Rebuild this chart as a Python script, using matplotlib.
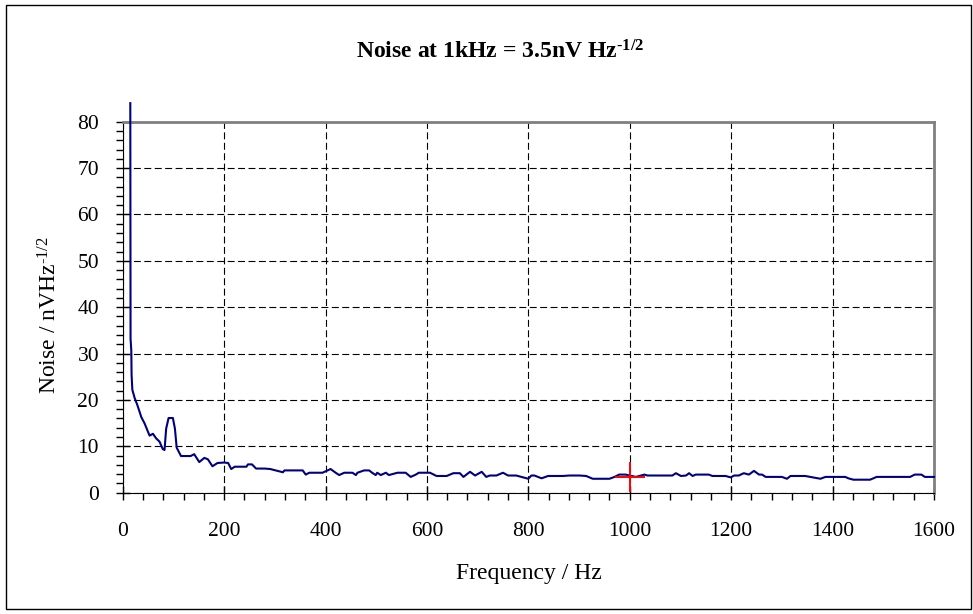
import numpy as np
import matplotlib
matplotlib.use("Agg")
import matplotlib.pyplot as plt
from matplotlib.ticker import MultipleLocator
from matplotlib.patches import Rectangle

# spectrum
freq = [15, 15.5, 17, 17.5, 19, 23.6, 28.9, 36.7, 43.3, 53, 59.7, 66, 72.7, 79, 82.5,
        85.7, 90.5, 99, 103, 106.5, 115, 134, 141, 151, 161, 168, 177, 187, 200, 208,
        214, 221, 244, 247, 255, 263, 280, 291, 309, 316, 319, 355, 361, 368, 394, 410,
        420, 427, 437, 453, 460, 463, 476, 486, 492, 499, 502, 509, 519, 525, 542, 558,
        568, 578, 584, 606, 619, 639, 652, 665, 672, 685, 695, 708, 717, 724, 737, 750,
        760, 776, 786, 800, 806, 812, 826, 839, 868, 881, 901, 914, 927, 960, 970, 979,
        992, 1012, 1029, 1035, 1084, 1091, 1101, 1111, 1117, 1124, 1130, 1156, 1163,
        1189, 1199, 1206, 1215, 1225, 1235, 1245, 1255, 1261, 1268, 1300, 1310, 1317,
        1346, 1366, 1376, 1386, 1425, 1431, 1441, 1474, 1487, 1553, 1562, 1575, 1582, 1600]
noise = [84, 33.2, 30.6, 25.5, 22.2, 20.4, 18.9, 16.3, 14.9, 12.3, 12.7, 11.7, 11.0, 9.4, 9.2,
         13.8, 16.1, 16.1, 13.8, 9.7, 7.9, 7.9, 8.3, 6.6, 7.5, 7.2, 5.7, 6.4, 6.5, 6.4,
         5.1, 5.6, 5.6, 6.1, 6.1, 5.2, 5.2, 5.1, 4.6, 4.4, 4.8, 4.8, 3.9, 4.3, 4.3, 5.1,
         4.3, 3.8, 4.3, 4.3, 3.8, 4.3, 4.8, 4.8, 4.3, 3.8, 4.3, 3.8, 4.3, 3.8, 4.3, 4.3,
         3.4, 3.9, 4.3, 4.3, 3.6, 3.6, 4.2, 4.2, 3.4, 4.5, 3.7, 4.5, 3.4, 3.7, 3.7, 4.3,
         3.7, 3.7, 3.4, 3.0, 3.7, 3.7, 3.1, 3.6, 3.6, 3.7, 3.7, 3.6, 3.0, 3.0, 3.4, 3.9,
         3.9, 3.4, 3.9, 3.7, 3.7, 4.2, 3.6, 3.7, 4.2, 3.6, 3.9, 3.9, 3.6,
         3.6, 3.3, 3.7, 3.7, 4.2, 3.9, 4.7, 3.9, 3.9, 3.4, 3.4, 3.0, 3.6,
         3.6, 3.2, 3.0, 3.4, 3.4, 3.1, 2.8, 2.8, 3.4, 3.4, 3.9, 3.9, 3.4, 3.4]

# marked point at 1 kHz
mark_f = 1000
mark_v = 3.4
mark_ferr = 30
mark_verr = 3.2

plt.rcParams['font.family'] = 'Liberation Serif'
plt.rcParams['mathtext.fontset'] = 'custom'
plt.rcParams['mathtext.rm'] = 'Liberation Serif'
plt.rcParams['mathtext.it'] = 'Liberation Serif'
plt.rcParams['mathtext.bf'] = 'Liberation Serif:bold'
plt.rcParams['lines.scale_dashes'] = False

fig = plt.figure(figsize=(9.73, 6.14), dpi=100)
ax = fig.add_axes([0.1261, 0.1976, 0.8338, 0.6042])

ax.plot(freq, noise, color='#000080', lw=1.5, clip_on=False, zorder=3)
ax.errorbar([mark_f], [mark_v], xerr=[mark_ferr], yerr=[mark_verr], fmt='none',
            ecolor='red', elinewidth=1.4, capsize=0, zorder=4)

ax.set_xlim(0, 1600)
ax.set_ylim(0, 80)
ax.xaxis.set_major_locator(MultipleLocator(200))
ax.xaxis.set_minor_locator(MultipleLocator(40))
ax.yaxis.set_major_locator(MultipleLocator(10))
ax.yaxis.set_minor_locator(MultipleLocator(2))

ax.grid(True, which='major', color='black', lw=0.8, linestyle=(0, (5, 2.5)))
ax.set_axisbelow(True)

ax.tick_params(which='major', direction='inout', length=10, width=1, labelsize=15.5)
ax.tick_params(which='minor', direction='out', length=5, width=1)
ax.tick_params(axis='y', which='major', pad=12)
ax.tick_params(axis='x', which='major', pad=16)

ax.spines['left'].set_color('black')
ax.spines['bottom'].set_color('black')
for s in ['top', 'right']:
    ax.spines[s].set_color('#808080')
    ax.spines[s].set_linewidth(2)

fig.text(500 / 973, 1 - 52 / 614, 'Noise at 1kHz = 3.5nV Hz$^{\\mathbf{\u2010}\\mathbf{1/2}}$',
         ha='center', va='center', fontsize=17, fontweight='bold')
fig.text(529 / 973, 1 - 573 / 614, 'Frequency / Hz', ha='center', va='center', fontsize=17)
fig.text(50 / 973, 1 - 315 / 614, 'Noise / nVHz$^{\u20101/2}$', ha='center', va='center',
         rotation=90, fontsize=17)

fig.patches.append(Rectangle((6 / 973, 1 - 609 / 614), 965 / 973, 604 / 614,
                             transform=fig.transFigure, fill=False, edgecolor='black', lw=1))

fig.savefig('out.png', dpi=100)
